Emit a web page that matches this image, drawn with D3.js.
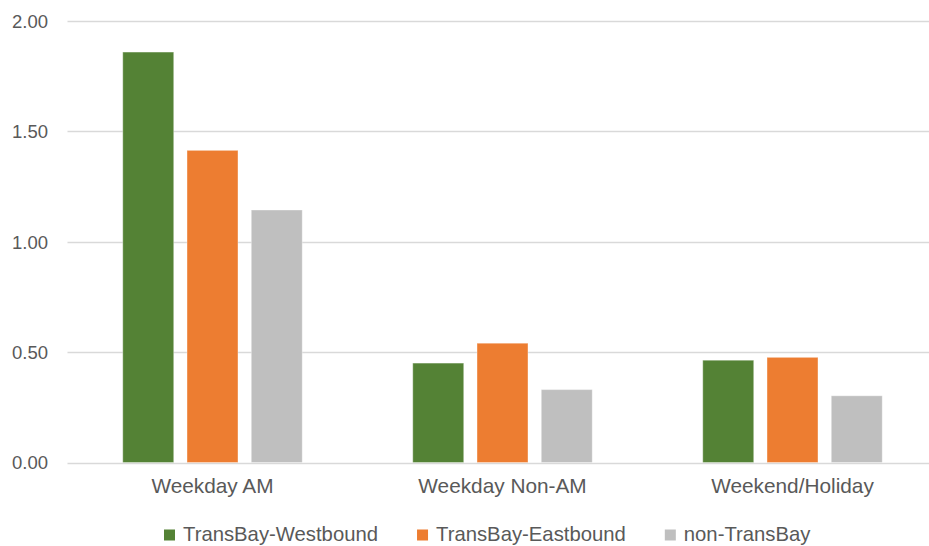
<!DOCTYPE html>
<html>
<head>
<meta charset="utf-8">
<script src="https://cdn.jsdelivr.net/npm/d3@7"></script>
<style>
  html, body { margin: 0; padding: 0; background: #fff; }
  svg { display: block; }
  text { font-family: "Liberation Sans", Arial, sans-serif; fill: #595959; }
</style>
</head>
<body>
<svg id="chart" width="929" height="546"></svg>
<script>
const categories = ["Weekday AM", "Weekday Non-AM", "Weekend/Holiday"];
const seriesNames = ["TransBay-Westbound", "TransBay-Eastbound", "non-TransBay"];
const westbound = [1.858, 0.450, 0.463];
const eastbound = [1.413, 0.540, 0.476];
const nonTransBay = [1.143, 0.330, 0.302];
const seriesColors = ["#548235", "#ED7D31", "#BFBFBF"];
const yTicks = [0, 0.5, 1.0, 1.5, 2.0];

const seriesValues = [westbound, eastbound, nonTransBay];
const svg = d3.select("#chart");

const x0 = d3.scaleBand().domain(categories).range([67.5, 937.5]).paddingInner(0).paddingOuter(0);
const x1 = d3.scaleBand().domain(seriesNames).range([0, x0.bandwidth()]).paddingInner(0.207).paddingOuter(0.86);
const y = d3.scaleLinear().domain([0, 2]).range([462.5, 20.7]);

// gridlines
svg.append("g").selectAll("line").data(yTicks).join("line")
  .attr("x1", 67.5).attr("x2", 937.5)
  .attr("y1", d => Math.round(y(d)) + 0.5).attr("y2", d => Math.round(y(d)) + 0.5)
  .attr("stroke", "#D9D9D9").attr("stroke-width", 1.3);

// y axis labels
const yAxis = d3.axisLeft(y).tickValues(yTicks).tickFormat(d3.format(".2f")).tickSize(0).tickPadding(0);
const yg = svg.append("g").attr("transform", "translate(48,0)").call(yAxis);
yg.select(".domain").remove();
yg.selectAll("text").style("font-size", "18.5px").attr("fill", "#595959")
  .attr("font-family", "Liberation Sans, Arial, sans-serif").attr("dy", "0.35em");

// bars
const groups = svg.append("g").selectAll("g").data(categories).join("g")
  .attr("transform", d => `translate(${x0(d)},0)`);
groups.selectAll("rect")
  .data((c, ci) => seriesNames.map((s, si) => ({ s, si, v: seriesValues[si][ci] })))
  .join("rect")
  .attr("x", d => x1(d.s))
  .attr("width", x1.bandwidth())
  .attr("y", d => y(d.v))
  .attr("height", d => y(0) - y(d.v))
  .attr("fill", d => seriesColors[d.si])
  .attr("stroke", "rgba(255,255,255,0.35)")
  .attr("stroke-width", 1);

// x axis labels
const xAxis = d3.axisBottom(x0).tickSize(0).tickPadding(0);
const xg = svg.append("g").attr("transform", "translate(0,478)").call(xAxis);
xg.select(".domain").remove();
xg.selectAll("text").style("font-size", "20.8px").attr("fill", "#595959")
  .attr("font-family", "Liberation Sans, Arial, sans-serif").attr("dy", "0.71em");

// legend
const legend = svg.append("g");
let lx = 164;
seriesNames.forEach((name, i) => {
  legend.append("rect").attr("x", lx).attr("y", 529.5).attr("width", 11).attr("height", 11)
    .attr("fill", seriesColors[i]);
  const t = legend.append("text").attr("x", lx + 19).attr("y", 534).attr("dy", "0.35em")
    .style("font-size", "20.3px").text(name);
  const w = t.node().getComputedTextLength();
  lx = lx + 19 + w + 39;
});
</script>
</body>
</html>
